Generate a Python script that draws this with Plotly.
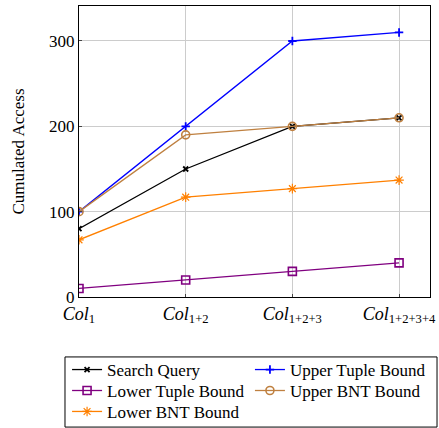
import plotly.graph_objects as go

categories = ["<i>Col</i><sub>1</sub>", "<i>Col</i><sub>1+2</sub>",
              "<i>Col</i><sub>1+2+3</sub>", "<i>Col</i><sub>1+2+3+4</sub>"]
search_query = [80, 150, 200, 210]
upper_tuple = [100, 200, 300, 310]
lower_tuple = [10, 20, 30, 40]
upper_bnt = [100, 190, 200, 210]
lower_bnt = [67, 117, 127, 137]

xs = list(range(len(categories)))
FONT = "Liberation Serif"

# (name, values, colour, symbol, size, marker line width, legend id, legend x, legend y)
series = [
    ("Search Query", search_query, "black", "x-thin-open", 5, 1.8, "legend", -0.034, -0.189),
    ("Upper Tuple Bound", upper_tuple, "#0000ff", "cross-thin-open", 6, 1.8, "legend2", 0.487, -0.189),
    ("Lower Tuple Bound", lower_tuple, "#800080", "square-open", 8, 1.6, "legend3", -0.034, -0.261),
    ("Upper BNT Bound", upper_bnt, "#bf8040", "circle-open", 8, 1.6, "legend4", 0.487, -0.261),
    ("Lower BNT Bound", lower_bnt, "#ff8000", "asterisk-open", 8, 1.2, "legend5", -0.034, -0.333),
]

fig = go.Figure()
legends = {}
for name, vals, color, sym, size, mlw, leg, lx, ly in series:
    fig.add_trace(go.Scatter(
        x=xs, y=vals, name=name, mode="lines+markers", legend=leg,
        line=dict(color=color, width=1.3),
        marker=dict(symbol=sym, size=size, color=color, line=dict(color=color, width=mlw)),
    ))
    legends[leg] = dict(
        x=lx, y=ly, orientation="v", yanchor="top", xanchor="left",
        bgcolor="rgba(0,0,0,0)", borderwidth=0, itemwidth=30,
        font=dict(family=FONT, size=17),
    )

fig.update_layout(
    width=439, height=428,
    margin=dict(l=79, r=9, t=6, b=131, autoexpand=False),
    plot_bgcolor="white", paper_bgcolor="white",
    font=dict(family=FONT, size=17, color="black"),
    showlegend=True,
    shapes=[dict(type="rect", xref="paper", yref="paper",
                 x0=-0.0399, x1=1.02, y0=-0.206, y1=-0.447,
                 line=dict(color="black", width=1), fillcolor="rgba(0,0,0,0)",
                 layer="below")],
    **legends,
)
fig.update_xaxes(
    range=[0, 3.29], tickmode="array", tickvals=xs, ticktext=categories,
    showline=True, linecolor="black", linewidth=1, mirror=True,
    showgrid=True, gridcolor="#cccccc", gridwidth=1, zeroline=False,
    ticks="inside", ticklen=3, tickcolor="#444444",
    tickfont=dict(family=FONT, size=18),
)
fig.update_yaxes(
    range=[0, 341], tickvals=[0, 100, 200, 300],
    showline=True, linecolor="black", linewidth=1, mirror=True,
    showgrid=True, gridcolor="#cccccc", gridwidth=1, zeroline=False,
    ticks="inside", ticklen=3, tickcolor="#444444",
    tickfont=dict(family=FONT, size=17),
    title=dict(text="Cumulated Access", font=dict(family=FONT, size=17), standoff=20),
)
fig.write_html("out.html", config={"displayModeBar": False},
               post_script="document.body.style.margin='0';")
